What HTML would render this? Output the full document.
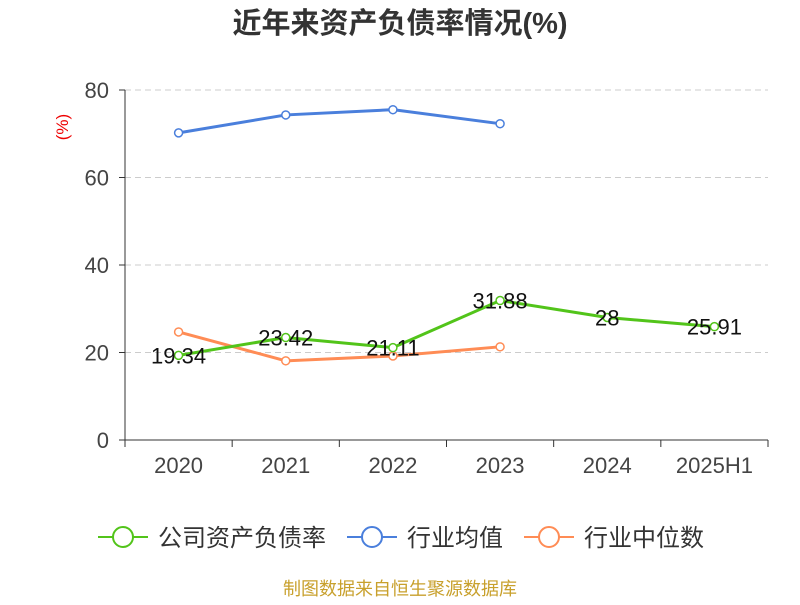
<!DOCTYPE html>
<html><head><meta charset="utf-8"><style>
body{margin:0;background:#fff;font-family:"Liberation Sans","Noto Sans CJK SC",sans-serif}
</style></head><body>
<svg width="800" height="600" xmlns="http://www.w3.org/2000/svg" font-family="Liberation Sans, Noto Sans CJK SC, sans-serif">
<text x="400" y="33" text-anchor="middle" font-size="29" font-weight="bold" fill="#333">近年来资产负债率情况(%)</text>
<text x="68" y="127" text-anchor="middle" font-size="17" fill="#e00" transform="rotate(-90 68 127)">(%)</text>
<g id="grid"></g><g id="axes"></g><g id="series"></g>
<g>
<g><line x1="98" y1="537" x2="148" y2="537" stroke="#52c41a" stroke-width="2"/><circle cx="123" cy="537" r="10" fill="#fff" stroke="#52c41a" stroke-width="2"/><text x="158" y="546" font-size="24" fill="#333">公司资产负债率</text></g>
<g><line x1="347" y1="537" x2="397" y2="537" stroke="#4a7fdc" stroke-width="2"/><circle cx="372" cy="537" r="10" fill="#fff" stroke="#4a7fdc" stroke-width="2"/><text x="407" y="546" font-size="24" fill="#333">行业均值</text></g>
<g><line x1="524" y1="537" x2="574" y2="537" stroke="#ff8c55" stroke-width="2"/><circle cx="549" cy="537" r="10" fill="#fff" stroke="#ff8c55" stroke-width="2"/><text x="584" y="546" font-size="24" fill="#333">行业中位数</text></g>
</g>
<text x="400" y="595" text-anchor="middle" font-size="18" fill="#c8a02c">制图数据来自恒生聚源数据库</text>
</svg>
<script>
const categories=["2020","2021","2022","2023","2024","2025H1"];
const company=[19.34,23.42,21.11,31.88,28,25.91];
const companyLabels=["19.34","23.42","21.11","31.88","28","25.91"];
const industryAvg=[70.2,74.3,75.5,72.3];
const industryMedian=[24.7,18.1,19.2,21.3];
const yTicks=[0,20,40,60,80];
const NS="http://www.w3.org/2000/svg";
const x0=125,x1=768,yb=440,yt=90,ymax=80;
const bw=(x1-x0)/categories.length;
const X=i=>x0+bw*(i+0.5);
const Y=v=>yb-(v/ymax)*(yb-yt);
function mk(p,t,a){const e=document.createElementNS(NS,t);for(const k in a)e.setAttribute(k,a[k]);p.appendChild(e);return e;}
const grid=document.getElementById('grid'),axes=document.getElementById('axes'),ser=document.getElementById('series');
yTicks.forEach(v=>{
 if(v>0){const g=mk(grid,'line',{x1:x0,x2:x1,y1:Y(v),y2:Y(v),stroke:'#ccc','stroke-dasharray':'6,4'});
 }
 mk(axes,'line',{x1:x0-6,x2:x0,y1:Y(v),y2:Y(v),stroke:'#333'});
 const t=mk(axes,'text',{x:x0-16,y:Y(v)+8,'text-anchor':'end','font-size':22,fill:'#444'});t.textContent=v;
 
});
mk(axes,'line',{x1:x0,x2:x0,y1:yt,y2:yb,stroke:'#333'});
mk(axes,'line',{x1:x0,x2:x1,y1:yb,y2:yb,stroke:'#333'});
for(let i=0;i<=categories.length;i++)mk(axes,'line',{x1:x0+bw*i,x2:x0+bw*i,y1:yb,y2:yb+7,stroke:'#333'});
categories.forEach((c,i)=>{const t=mk(axes,'text',{x:X(i),y:473,'text-anchor':'middle','font-size':22,fill:'#444'});t.textContent=c;
 });
function line(vals,color,name){
 const g=mk(ser,'g',{});
 mk(g,'polyline',{points:vals.map((v,i)=>X(i)+','+Y(v)).join(' '),fill:'none',stroke:color,'stroke-width':3});
 vals.forEach((v,i)=>{const c=mk(g,'circle',{cx:X(i),cy:Y(v),r:4,fill:'#fff',stroke:color,'stroke-width':1.5});
  });
 return g;
}
line(industryAvg,'#4a7fdc','industry-avg-line');
line(industryMedian,'#ff8c55','industry-median-line');
const cg=line(company,'#52c41a','company-line');
company.forEach((v,i)=>{const t=mk(cg,'text',{x:X(i),y:Y(v)+8,'text-anchor':'middle','font-size':22,fill:'#111'});t.textContent=companyLabels[i];
 });
</script>
</body></html>
